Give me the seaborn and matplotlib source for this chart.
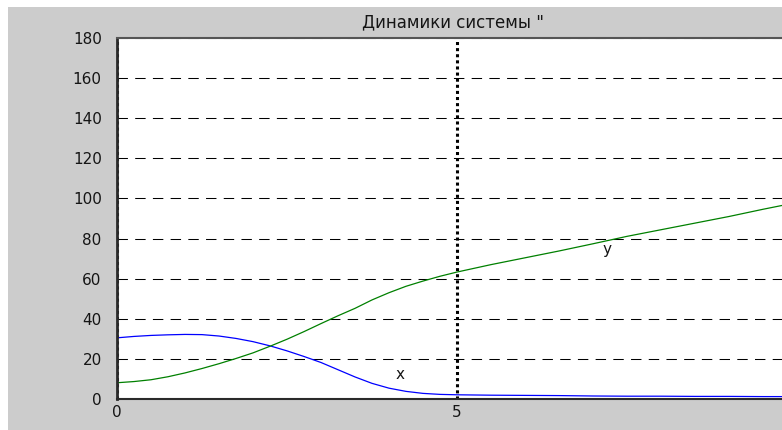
import numpy as np
import pandas as pd
import matplotlib
matplotlib.use("Agg")
import matplotlib.pyplot as plt
from matplotlib.patches import Rectangle
import seaborn as sns

# Time grid and the two state variables of the system
t = [0.0, 0.25, 0.5, 0.75, 1.0, 1.25, 1.5, 1.75, 2.0, 2.25, 2.5, 2.75,
     3.0, 3.25, 3.5, 3.75, 4.0, 4.25, 4.5, 4.75, 5.0,
     5.5, 6.0, 6.5, 7.0, 7.5, 8.0, 8.5, 9.0, 9.5, 10.0]
x_vals = [30.5, 31.2, 31.7, 32.0, 32.2, 32.1, 31.4, 30.2, 28.6, 26.5, 24.0, 21.2,
          18.2, 14.6, 11.0, 7.8, 5.4, 3.8, 2.8, 2.3, 2.1,
          1.9, 1.8, 1.7, 1.5, 1.4, 1.4, 1.3, 1.3, 1.2, 1.2]
y_vals = [8.1, 8.7, 9.6, 11.1, 13.0, 15.2, 17.6, 20.2, 23.0, 26.3, 29.8, 33.6,
          37.6, 41.5, 45.2, 49.4, 53.0, 56.2, 58.8, 61.2, 63.3,
          67.0, 70.4, 73.8, 77.4, 81.1, 84.4, 87.7, 91.0, 94.6, 98.0]

y_ticks = [0, 20, 40, 60, 80, 100, 120, 140, 160, 180]
x_ticks = [0, 5, 10]
title_text = 'Динамики системы "'

df = pd.DataFrame({"t": t, "x": x_vals, "y": y_vals})

sns.set_style("white")
plt.rcParams["font.family"] = ["DejaVu Sans"]

W, H = 782, 430
fig = plt.figure(figsize=(W / 100, H / 100), dpi=100, facecolor="#cccccc")

# white margin strips along the top and left edges
fig.add_artist(Rectangle((0, 1 - 7 / H), 1, 7 / H, transform=fig.transFigure,
                         facecolor="white", edgecolor="none", zorder=0))
fig.add_artist(Rectangle((0, 0), 8 / W, 1, transform=fig.transFigure,
                         facecolor="white", edgecolor="none", zorder=0))

ax = fig.add_axes([117 / W, 31 / H, 680 / W, 361 / H])
ax.set_facecolor("white")

sns.lineplot(data=df, x="t", y="x", ax=ax, color="#0000ff", linewidth=0.9)
sns.lineplot(data=df, x="t", y="y", ax=ax, color="#008000", linewidth=0.9)

ax.set_xlim(0, 10)
ax.set_ylim(0, 180)
ax.set_xticks(x_ticks)
ax.set_yticks(y_ticks)
ax.set_xlabel("")
ax.set_ylabel("")

ax.grid(False)
ax.yaxis.grid(True, color="black", linewidth=0.75, linestyle=(0, (10, 7)))
ax.xaxis.grid(True, color="black", linewidth=2.2, linestyle=(0, (1, 1)))
ax.set_axisbelow(True)

for side in ["left", "bottom", "top", "right"]:
    ax.spines[side].set_visible(True)
    ax.spines[side].set_color("#2a2a2a")
ax.spines["left"].set_linewidth(2.0)
ax.spines["bottom"].set_linewidth(1.5)
ax.spines["top"].set_linewidth(1.5)
ax.spines["top"].set_color("#555555")

ax.tick_params(axis="both", length=0, labelsize=11, colors="#151515")
ax.tick_params(axis="y", pad=11)
ax.tick_params(axis="x", pad=4)

ax.text(4.16, 12, "x", fontsize=11, ha="center", va="center", color="#151515")
ax.text(7.2, 74.5, "y", fontsize=11, ha="center", va="center", color="#151515")

fig.text(362 / W, 1 - 27 / H, title_text, fontsize=12, ha="left",
         va="baseline", color="#151515")

fig.savefig("out.png", dpi=100, facecolor=fig.get_facecolor())
